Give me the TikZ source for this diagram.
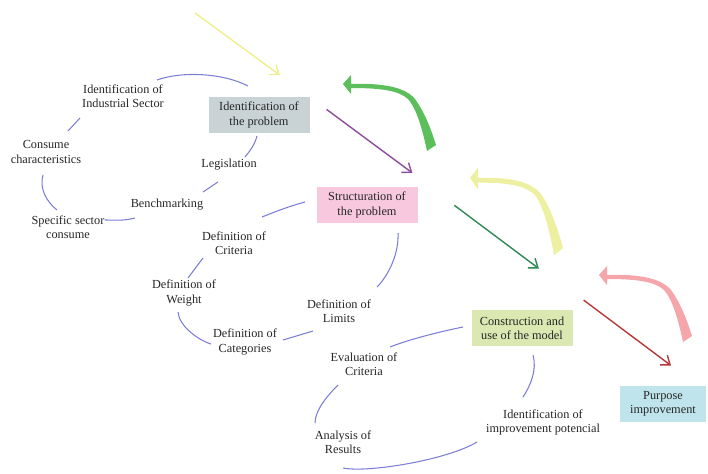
\documentclass[tikz,border=0pt]{standalone}
\usepackage{fontspec}
\setmainfont{Liberation Serif}
\usetikzlibrary{arrows.meta,positioning}

\definecolor{boxgray}{RGB}{201,211,213}
\definecolor{boxpink}{RGB}{247,200,222}
\definecolor{boxolive}{RGB}{219,232,178}
\definecolor{boxcyan}{RGB}{191,228,236}
\definecolor{linkblue}{RGB}{125,125,215}
\definecolor{arryellow}{RGB}{238,238,140}
\definecolor{arrpurple}{RGB}{142,76,156}
\definecolor{arrgreen}{RGB}{46,139,87}
\definecolor{arrred}{RGB}{181,57,59}
\definecolor{bentgreen}{RGB}{92,191,92}
\definecolor{bentyellow}{RGB}{236,240,160}
\definecolor{bentpink}{RGB}{244,166,170}

% tapered bent arrow, tip at (#2,#3)
\newcommand{\bentarrow}[4]{%
  \begin{scope}[shift={(#2,#3)},yscale=-#4]
    \fill[#1] (0,0) -- (8,-9) -- (8,0)
      .. controls (40,-1) and (62,3) .. (72,15)
      .. controls (82,29) and (88,45) .. (93,61)
      -- (84,67)
      .. controls (80,48) and (74,25) .. (65,15)
      .. controls (56,7) and (40,4) .. (8,4)
      -- (8,10) -- cycle;
  \end{scope}}

\begin{document}
\begin{tikzpicture}[x=0.03cm,y=0.03cm,on grid,
  font=\fontsize{10.5}{12}\selectfont,text=black!85]
	\tikzstyle{box}
	  =[rectangle, align=center, inner sep=1pt, minimum width=3.03cm, minimum height=1.07cm]
	\tikzstyle{lbl}
	  =[align=center, inner sep=1pt]
	\tikzstyle{link}
	  =[draw=linkblue, line width=0.9pt]
	\tikzstyle{arr}
	  =[line width=1.2pt, -{Straight Barb[length=2.4mm,width=3.6mm]}]

	\useasboundingbox (0,0) rectangle (708,473);

	% main steps
	\node[box,fill=boxgray] (prob)
	  at (259,358) {Identification of\\the problem};
	\node[box,fill=boxpink] (struct)
	  [below right=2.7cm and 3.24cm of prob] {Structuration of\\the problem};
	\node[box,fill=boxolive] (model)
	  [below right=3.69cm and 4.65cm of struct] {Construction and\\use of the model};
	\node[box,fill=boxcyan,minimum width=2.58cm] (purpose)
	  [below right=2.28cm and 4.23cm of model] {Purpose\\improvement};

	% first loop
	\node[lbl] (indsec)
	  [above left=0.57cm and 4.08cm of prob] {Identification of\\Industrial Sector};
	\node[lbl] (consume)
	  [below left=1.68cm and 2.31cm of indsec] {Consume\\characteristics};
	\node[lbl] (legis)
	  [below left=1.5cm and 0.9cm of prob] {Legislation};
	\node[lbl] (bench)
	  [below left=1.2cm and 1.86cm of legis] {Benchmarking};
	\node[lbl] (specific)
	  [below left=0.66cm and 2.97cm of bench] {Specific sector\\consume};

	% second loop
	\node[lbl] (defcrit)
	  [below left=1.14cm and 3.99cm of struct] {Definition of\\Criteria};
	\node[lbl] (defweight)
	  [below left=1.5cm and 1.5cm of defcrit] {Definition of\\Weight};
	\node[lbl] (defcat)
	  [below right=1.47cm and 1.83cm of defweight] {Definition of\\Categories};
	\node[lbl] (deflim)
	  [above right=0.93cm and 2.82cm of defcat] {Definition of\\Limits};

	% third loop
	\node[lbl] (evalcrit)
	  [below left=1.08cm and 4.74cm of model] {Evaluation of\\Criteria};
	\node[lbl] (analysis)
	  [below left=2.34cm and 0.63cm of evalcrit] {Analysis of\\Results};
	\node[lbl] (potencial)
	  [below right=2.82cm and 0.63cm of model] {Identification of\\improvement potencial};

	\coordinate[above left=3.06cm and 1.92cm of prob] (ystart);

	% bent arrows
	\bentarrow{bentgreen}{343}{389}{1}
	\bentarrow{bentyellow}{470}{295}{1.15}
	\bentarrow{bentpink}{599}{198}{1}

	% straight arrows
	\draw[arr,arryellow,shorten >=1.11cm] (ystart)--(prob.north east);
	\draw[arr,arrpurple,shorten <=0.63cm,shorten >=0.2cm]
	  (prob.north east)--([shift={(0,10)}]struct.north east);
	\draw[arr,arrgreen,shorten <=1.37cm,shorten >=1.27cm]
	  ([shift={(0,9)}]struct.north east)--([shift={(0,16)}]model.north east);
	\draw[arr,arrred,shorten <=0.41cm,shorten >=1.02cm]
	  ([shift={(0,18)}]model.north east)--([shift={(-8,0)}]purpose.north east);

	% loop links
	\draw[link] ([shift={(34,16)}]indsec.center)
	  .. controls +(25,9) and +(-25,13) .. ([shift={(-11,29)}]prob.center);
	\draw[link] ([shift={(-43,-22)}]indsec.center)--([shift={(22,21)}]consume.center);
	\draw[link] ([shift={(-3,-23)}]consume.center)
	  .. controls +(-4,-14) and +(-10,8) .. ([shift={(-11,17)}]specific.center);
	\draw[link] ([shift={(37,7)}]specific.center)
	  .. controls +(12,0) and +(-12,-3) .. ([shift={(-32,-13)}]bench.center);
	\draw[link] ([shift={(36,13)}]bench.center)--([shift={(-11,-17)}]legis.center);
	\draw[link] ([shift={(16,8)}]legis.center)
	  .. controls +(5,6) and +(-2,-8) .. ([shift={(-2,-21)}]prob.center);

	\draw[link] ([shift={(28,26)}]defcrit.center)
	  .. controls +(15,6) and +(-15,-4) .. ([shift={(-62,3)}]struct.center);
	\draw[link] ([shift={(-31,-15)}]defcrit.center)--([shift={(4,15)}]defweight.center);
	\draw[link] ([shift={(-6,-19)}]defweight.center)
	  .. controls +(1,-14) and +(-13,4) .. ([shift={(-34,-2)}]defcat.center);
	\draw[link] ([shift={(38,2)}]defcat.center)--([shift={(-26,-20)}]deflim.center);
	\draw[link] ([shift={(38,24)}]deflim.center)
	  .. controls +(12,12) and +(1,-20) .. ([shift={(31,-28)}]struct.center);

	\draw[link] ([shift={(26,17)}]evalcrit.center)
	  .. controls +(20,8) and +(-20,-4) .. ([shift={(-59,1)}]model.center);
	\draw[link] ([shift={(-26,-21)}]evalcrit.center)
	  .. controls +(-12,-12) and +(0,12) .. ([shift={(-28,19)}]analysis.center);
	\draw[link] ([shift={(0,-26)}]analysis.center)
	  .. controls +(25,-5) and +(-30,-18) .. ([shift={(-66,-20)}]potencial.center);
	\draw[link] ([shift={(11,-27)}]model.center)
	  .. controls +(4,-14) and +(8,12) .. ([shift={(-20,25)}]potencial.center);
\end{tikzpicture}
\end{document}
